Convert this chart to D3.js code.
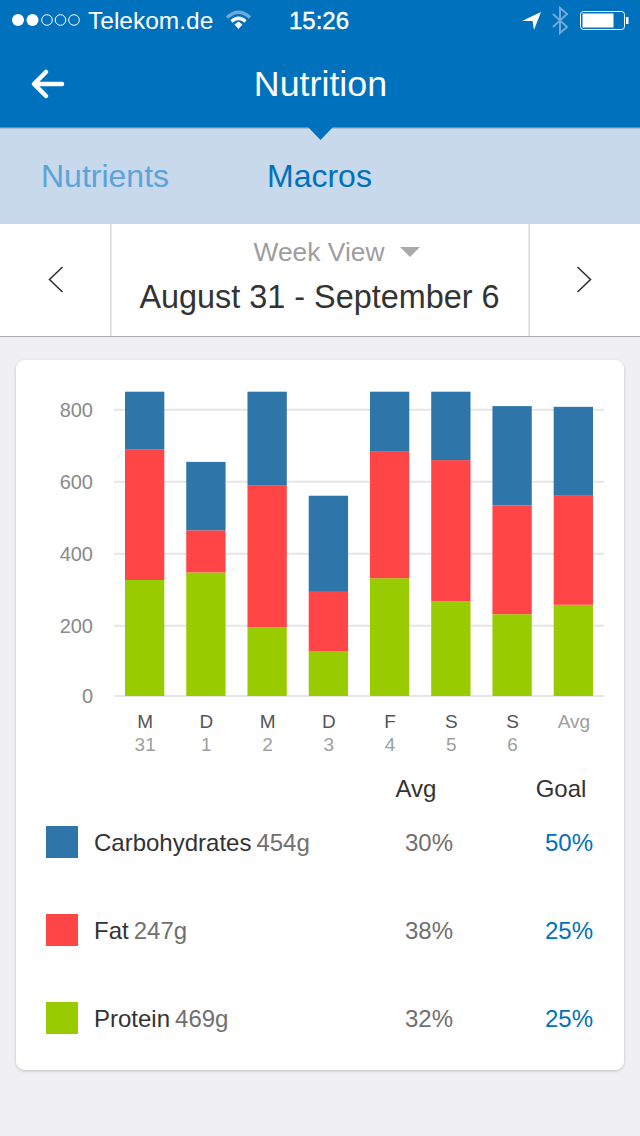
<!DOCTYPE html>
<html>
<head>
<meta charset="utf-8">
<title>Nutrition</title>
<script src="https://cdn.jsdelivr.net/npm/d3@7"></script>
<style>
  html, body { margin: 0; padding: 0; background: #efeff4; }
  svg { display: block; font-family: "Liberation Sans", Arial, sans-serif; }
</style>
</head>
<body>
<div id="chart"></div>
<script>
// Chart values
const dayLabels = ['M', 'D', 'M', 'D', 'F', 'S', 'S', 'Avg'];
const dateLabels = ['31', '1', '2', '3', '4', '5', '6', ''];
const yTicks = [0, 200, 400, 600, 800];
const seriesKeys = ['protein', 'fat', 'carbs'];
const protein = [327, 348, 196, 128, 332, 268, 232, 258];
const fat = [362, 117, 393, 166, 353, 392, 302, 303];
const carbs = [161, 190, 261, 267, 165, 190, 276, 247];

const legendNames = ['Carbohydrates', 'Fat', 'Protein'];
const legendKeys = ['carbs', 'fat', 'protein'];
const legendGrams = ['454g', '247g', '469g'];
const legendAvg = ['30%', '38%', '32%'];
const legendGoal = ['50%', '25%', '25%'];

const COL = {
  header: '#0071bc',
  tabs: '#c7d9eb',
  page: '#efeff4',
  grid: '#e6e6e6',
  dark: '#333333',
  mid: '#707070',
  light: '#9e9e9e',
  blue: '#0071bc',
  carbs: '#2e75a9',
  fat: '#ff4545',
  protein: '#99cc00',
};

const W = 640, H = 1136;
const svg = d3.select('#chart').append('svg')
  .attr('width', W).attr('height', H).attr('viewBox', `0 0 ${W} ${H}`);

const defs = svg.append('defs');
const shadow = defs.append('filter').attr('id', 'card-shadow')
  .attr('x', '-5%').attr('y', '-5%').attr('width', '110%').attr('height', '110%');
shadow.append('feDropShadow').attr('dx', 0).attr('dy', 1).attr('stdDeviation', 1.5)
  .attr('flood-color', '#000').attr('flood-opacity', 0.22);

function label(parent, text, x, y, size, fill, anchor = 'start') {
  return parent.append('text').text(text)
    .attr('x', x).attr('y', y)
    .attr('font-size', size).attr('fill', fill).attr('text-anchor', anchor);
}

/* ── Page chrome ── */
svg.append('rect').attr('width', W).attr('height', H).attr('fill', COL.page);
svg.append('rect').attr('width', W).attr('height', 128).attr('fill', COL.header);
svg.append('rect').attr('y', 128).attr('width', W).attr('height', 96).attr('fill', COL.tabs);
svg.append('rect').attr('y', 127.5).attr('width', W).attr('height', 1.5).attr('fill', '#a9bccd');
svg.append('path').attr('d', 'M308,127L333,127L320.5,140Z').attr('fill', COL.header);
svg.append('rect').attr('y', 224).attr('width', W).attr('height', 112).attr('fill', '#fff');
svg.append('rect').attr('y', 336).attr('width', W).attr('height', 1).attr('fill', '#ababab');
svg.append('rect').attr('x', 110).attr('y', 224).attr('width', 1.5).attr('height', 112).attr('fill', '#d8d8d8');
svg.append('rect').attr('x', 528.5).attr('y', 224).attr('width', 1.5).attr('height', 112).attr('fill', '#d8d8d8');

// Status bar
const status = svg.append('g');
[[18, 1], [32.5, 1], [47, 0], [60.5, 0], [74, 0]].forEach(([cx, on]) => {
  status.append('circle').attr('cx', cx).attr('cy', 20).attr('r', on ? 6 : 5.3)
    .attr('fill', on ? '#fff' : 'none').attr('stroke', '#fff').attr('stroke-width', on ? 0 : 1);
});
label(status, 'Telekom.de', 88, 29, 24.5, '#fff');
label(status, '15:26', 319, 29, 24, '#fff', 'middle').attr('stroke', '#fff').attr('stroke-width', 0.4);
status.append('path').attr('d', 'M227,17.5Q238.5,7 250,17.5').attr('fill', 'none')
  .attr('stroke', '#6fa9d8').attr('stroke-width', 3.2);
status.append('path').attr('d', 'M231.5,21.5Q238.5,15 245.5,21.5').attr('fill', 'none')
  .attr('stroke', '#fff').attr('stroke-width', 3.2);
status.append('path').attr('d', 'M234.5,24.5L238.5,21.5L242.5,24.5L238.5,29Z').attr('fill', '#fff');
status.append('path').attr('d', 'M522,21L541,12L534,30L532.5,21Z').attr('fill', '#fff');
status.append('path').attr('d', 'M553,14L567,27L560,33L560,8L567,14L553,27').attr('fill', 'none')
  .attr('stroke', '#6fa9d8').attr('stroke-width', 2);
status.append('rect').attr('x', 580.5).attr('y', 11.5).attr('width', 44).attr('height', 18).attr('rx', 3)
  .attr('fill', 'none').attr('stroke', '#fff').attr('stroke-width', 1);
status.append('rect').attr('x', 582.5).attr('y', 13.5).attr('width', 31).attr('height', 14).attr('fill', '#fff');
status.append('rect').attr('x', 626).attr('y', 17).attr('width', 2.5).attr('height', 7).attr('fill', '#fff');

// Nav bar
label(svg, 'Nutrition', 320.5, 96, 35.8, '#fff', 'middle');
svg.append('path').attr('d', 'M62,84L35,84M46,72L34,84L46,96').attr('fill', 'none')
  .attr('stroke', '#fff').attr('stroke-width', 4.5).attr('stroke-linecap', 'round').attr('stroke-linejoin', 'round');

// Tabs
label(svg, 'Nutrients', 41, 187, 32, '#5ba3d9');
label(svg, 'Macros', 267, 187, 32, COL.blue);

// Date picker
label(svg, 'Week View', 319, 261, 26.4, COL.light, 'middle');
svg.append('path').attr('d', 'M400,247L420,247L410,257Z').attr('fill', '#aaaaaa');
label(svg, 'August 31 - September 6', 319.5, 308, 32.4, COL.dark, 'middle');
svg.append('path').attr('d', 'M62.5,267L49.5,279.5L62.5,292M577.5,267L590.5,279.5L577.5,292')
  .attr('fill', 'none').attr('stroke', '#333').attr('stroke-width', 1.6);

/* ── Card ── */
svg.append('rect').attr('x', 16).attr('y', 360).attr('width', 608).attr('height', 710).attr('rx', 9)
  .attr('fill', '#fff').attr('filter', 'url(#card-shadow)');

/* ── Stacked bars ── */
const rows = dayLabels.map((d, i) => ({
  key: i, protein: protein[i], fat: fat[i], carbs: carbs[i],
}));
const stacked = d3.stack().keys(seriesKeys)(rows);

const x = d3.scaleBand().domain(d3.range(dayLabels.length))
  .range([125, 593]).paddingInner(0.358).paddingOuter(0);
// the picture's bottom gridline sits a little closer than the others
const y = d3.scaleLinear().domain([0, 200, 800]).range([696, 625.7, 409.7]);

const yAxis = d3.axisLeft(y).tickValues(yTicks).tickSize(0).tickPadding(0);
const yG = svg.append('g').attr('transform', 'translate(93,0)').call(yAxis);
yG.select('.domain').remove();
yG.selectAll('text')
  .attr('font-size', 20).attr('font-family', 'inherit').attr('fill', '#8a8a8a')
  .attr('dy', '0.32em');

svg.append('g').selectAll('line').data(yTicks).enter().append('line')
  .attr('x1', 114).attr('x2', 604)
  .attr('y1', d => y(d)).attr('y2', d => y(d))
  .attr('stroke', COL.grid).attr('stroke-width', 2);

svg.append('g').selectAll('g').data(stacked).enter().append('g')
  .attr('fill', s => COL[s.key])
  .selectAll('rect').data(s => s).enter().append('rect')
  .attr('x', (d, i) => x(i))
  .attr('width', x.bandwidth())
  .attr('y', d => y(d[1]))
  .attr('height', d => y(d[0]) - y(d[1]));

// X labels, weekday on top of date
const xG = svg.append('g');
xG.selectAll('text.day').data(dayLabels).enter().append('text').attr('class', 'day')
  .text(d => d)
  .attr('x', (d, i) => x(i) + x.bandwidth() / 2 + 0.5)
  .attr('y', 728)
  .attr('text-anchor', 'middle').attr('font-size', 19)
  .attr('fill', d => d === 'Avg' ? COL.light : '#555');
xG.selectAll('text.date').data(dateLabels).enter().append('text').attr('class', 'date')
  .text(d => d)
  .attr('x', (d, i) => x(i) + x.bandwidth() / 2 + 0.5)
  .attr('y', 751)
  .attr('text-anchor', 'middle').attr('font-size', 19)
  .attr('fill', COL.light);

/* ── Legend table ── */
label(svg, 'Avg', 416, 797, 24, COL.dark, 'middle');
label(svg, 'Goal', 561, 797, 24, COL.dark, 'middle');

const legendY = d3.scalePoint().domain(legendNames).range([826, 1002]);
const legend = svg.append('g').selectAll('g').data(legendNames).enter().append('g')
  .attr('transform', d => `translate(0,${legendY(d)})`);

legend.append('rect').attr('x', 46).attr('width', 32).attr('height', 32)
  .attr('fill', (d, i) => COL[legendKeys[i]]);

const nameText = legend.append('text')
  .attr('x', 94).attr('y', 25).attr('font-size', 24);
nameText.append('tspan').text(d => d).attr('fill', COL.dark);
nameText.append('tspan').text((d, i) => legendGrams[i]).attr('fill', COL.mid).attr('dx', 5);

legend.append('text').text((d, i) => legendAvg[i])
  .attr('x', 453).attr('y', 25).attr('font-size', 24)
  .attr('text-anchor', 'end').attr('fill', COL.mid);
legend.append('text').text((d, i) => legendGoal[i])
  .attr('x', 593).attr('y', 25).attr('font-size', 24)
  .attr('text-anchor', 'end').attr('fill', COL.blue);
</script>
</body>
</html>
